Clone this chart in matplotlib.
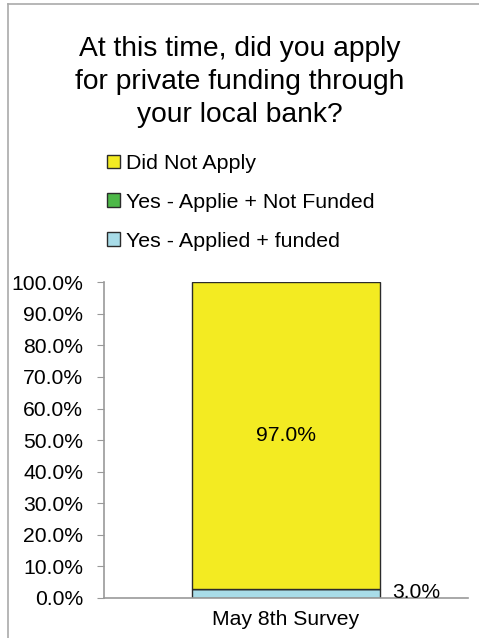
import matplotlib
matplotlib.use("Agg")
import matplotlib.pyplot as plt
from matplotlib.patches import Patch
from matplotlib.lines import Line2D

plt.rcParams['font.family'] = ['Liberation Sans', 'DejaVu Sans']

categories = ["May 8th Survey"]
series_names = ["Yes - Applied + funded", "Yes - Applie + Not Funded", "Did Not Apply"]
series_values = [[3.0], [0.0], [97.0]]
series_colors = ["#A8DCE8", "#4DB848", "#F3EB22"]
yticks = [0, 10, 20, 30, 40, 50, 60, 70, 80, 90, 100]
title = "At this time, did you apply\nfor private funding through\nyour local bank?"

fig = plt.figure(figsize=(4.79, 6.38), dpi=100)
ax = fig.add_axes([0.217, 0.0627, 0.76, 0.495])

x = list(range(len(categories)))
bottoms = [0.0] * len(categories)
for name, vals, col in zip(series_names, series_values, series_colors):
    ax.bar(x, vals, width=0.514, bottom=bottoms, color=col,
           edgecolor="#2b2b2b", linewidth=1.0, label=name)
    bottoms = [bo + v for bo, v in zip(bottoms, vals)]

ax.set_xlim(-0.5, 0.5)
ax.set_ylim(0, 100)
ax.set_yticks(yticks)
ax.set_yticklabels([f"{t:.1f}%" for t in yticks], fontsize=15.2)
ax.set_xticks(x)
ax.set_xticklabels(categories, fontsize=15.2)
ax.tick_params(axis='x', length=0, pad=9)
ax.tick_params(axis='y', direction='out', length=5, color="#999999", pad=10)
for s in ["top", "right"]:
    ax.spines[s].set_visible(False)
for s in ["left", "bottom"]:
    ax.spines[s].set_color("#999999")
    ax.spines[s].set_linewidth(1.2)

# data labels
for i in x:
    v_top = series_values[2][i]
    base = series_values[0][i] + series_values[1][i]
    ax.text(i, base + v_top / 2, f"{v_top:.1f}%", ha="center", va="center", fontsize=15.2)
    v_b = series_values[0][i]
    ax.text(i + 0.514 / 2 + 0.035, v_b / 2 + 0.3, f"{v_b:.1f}%", ha="left", va="center", fontsize=15.2)

fig.text(0.501, 0.943, title, ha="center", va="top", fontsize=20.3, linespacing=1.35)

handles = [Patch(facecolor=c, edgecolor="#2b2b2b", linewidth=1.0) for c in series_colors]
fig.legend(handles[::-1], series_names[::-1], loc="upper left",
           bbox_to_anchor=(0.205, 0.772), frameon=False, fontsize=15.4,
           handlelength=0.62, handleheight=0.62, handletextpad=0.3,
           labelspacing=0.93, borderaxespad=0)

# figure border lines (top and left)
fig.add_artist(Line2D([0.017, 0.017], [0, 0.993], transform=fig.transFigure, color="#aaaaaa", linewidth=1.2))
fig.add_artist(Line2D([0.017, 1.0], [0.993, 0.993], transform=fig.transFigure, color="#aaaaaa", linewidth=1.2))

fig.savefig("out.png", dpi=100)
